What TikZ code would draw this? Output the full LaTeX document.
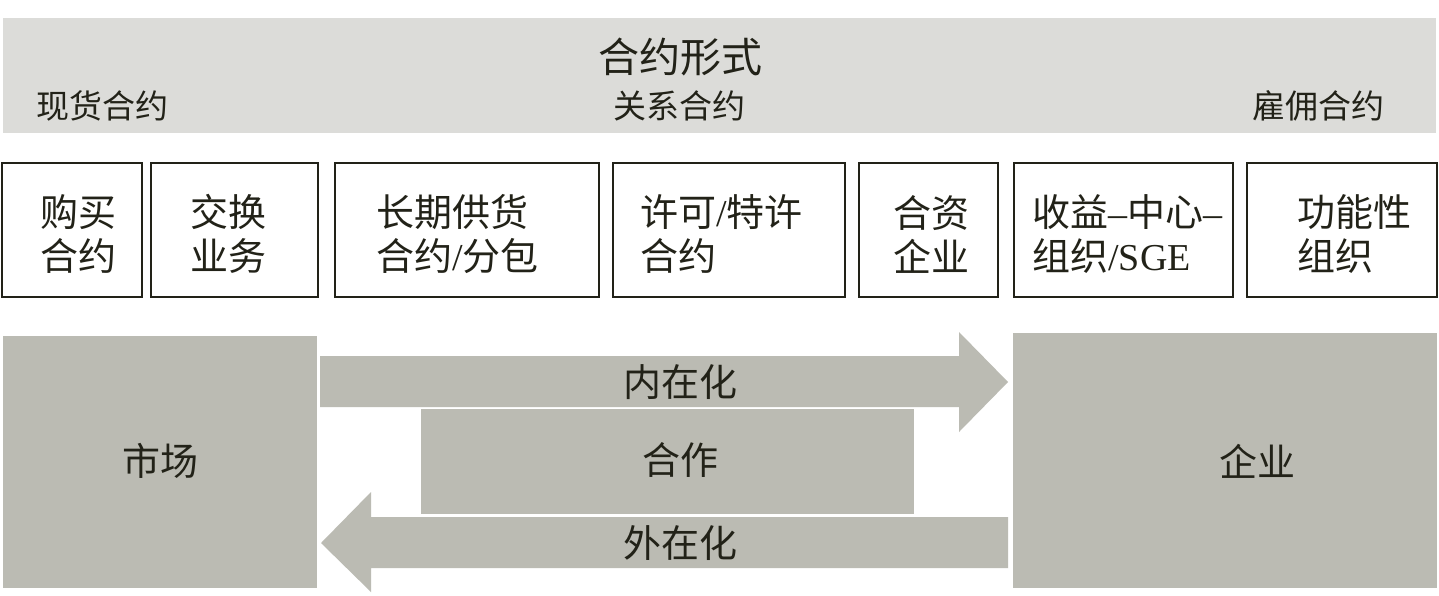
\documentclass[tikz,border=0pt]{standalone}
\usepackage{fontspec}
\setmainfont{Liberation Serif}
\newfontfamily\cjk{Noto Sans CJK SC}
\usetikzlibrary{positioning}
\definecolor{bandgrey}{HTML}{DCDCD9}
\definecolor{darkgrey}{HTML}{BBBBB3}
\definecolor{ink}{HTML}{222218}
\begin{document}
\begin{tikzpicture}[x=0.5pt,y=-0.5pt,
  cbox/.style={draw=ink,line width=1pt,fill=white,inner sep=0pt,minimum height=0.5pt*134},
  boxtxt/.style={text=ink,anchor=west,align=left,inner sep=0pt,font=\fontsize{19}{22}\selectfont\cjk},
  bigtxt/.style={text=ink,inner sep=0pt,font=\fontsize{19}{22}\selectfont\cjk},
  toptxt/.style={text=ink,inner sep=0pt,font=\fontsize{16.5}{20}\selectfont\cjk},
  gblock/.style={fill=darkgrey,draw=none}]
\useasboundingbox (0,0) rectangle (1439,595);
\fill[white] (0,0) rectangle (1439,595);
% top band
\fill[bandgrey] (3,18) rectangle (1436,133);
\node[text=ink,inner sep=0pt,font=\fontsize{20.5}{24}\selectfont\cjk] (title) at (680,57) {合约形式};
\node[toptxt] (spot) at (102,106) {现货合约};
\node[toptxt] (rel) at (679,106) {关系合约};
\node[toptxt] (emp) at (1318,106) {雇佣合约};
% boxes
\node[cbox,minimum width=0.5pt*140] (b1) at (72,230) {};
\node[cbox,minimum width=0.5pt*167] (b2) at (234.5,230) {};
\node[cbox,minimum width=0.5pt*264] (b3) at (467,230) {};
\node[cbox,minimum width=0.5pt*232] (b4) at (729,230) {};
\node[cbox,minimum width=0.5pt*139] (b5) at (928.5,230) {};
\node[cbox,minimum width=0.5pt*219] (b6) at (1123.5,230) {};
\node[cbox,minimum width=0.5pt*190] (b7) at (1342,230) {};
\node[boxtxt] (t1) at (40,234) {购买\\合约};
\node[boxtxt] (t2) at (190,234) {交换\\业务};
\node[boxtxt] (t3) at (376,234) {长期供货\\合约{\rmfamily/}分包};
\node[boxtxt] (t4) at (640,234) {许可{\rmfamily/}特许\\合约};
\node[boxtxt] (t5) at (893,234) {合资\\企业};
\node[boxtxt] (t6) at (1032,234) {收益{\rmfamily–}中心{\rmfamily–}\\组织{\rmfamily/SGE}};
\node[boxtxt] (t7) at (1297,234) {功能性\\组织};
% bottom blocks
\fill[gblock] (3,336) rectangle (317,588);
\node[bigtxt] (market) at (160,461) {市场};
\fill[gblock] (1013,333) rectangle (1437,588);
\node[bigtxt] (firm) at (1257,461) {企业};
% arrows
\fill[gblock] (320,356) -- (959,356) -- (959,332) -- (1008,382) -- (959,432) -- (959,407) -- (320,407) -- cycle;
\node[bigtxt] (intern) at (680,382) {内在化};
\fill[gblock] (421,409) rectangle (914,514);
\node[bigtxt] (coop) at (680,460) {合作};
\fill[gblock] (1008,517) -- (371,517) -- (371,492) -- (321,543) -- (371,592) -- (371,568) -- (1008,568) -- cycle;
\node[bigtxt] (extern) at (680,543) {外在化};
\end{tikzpicture}
\end{document}
